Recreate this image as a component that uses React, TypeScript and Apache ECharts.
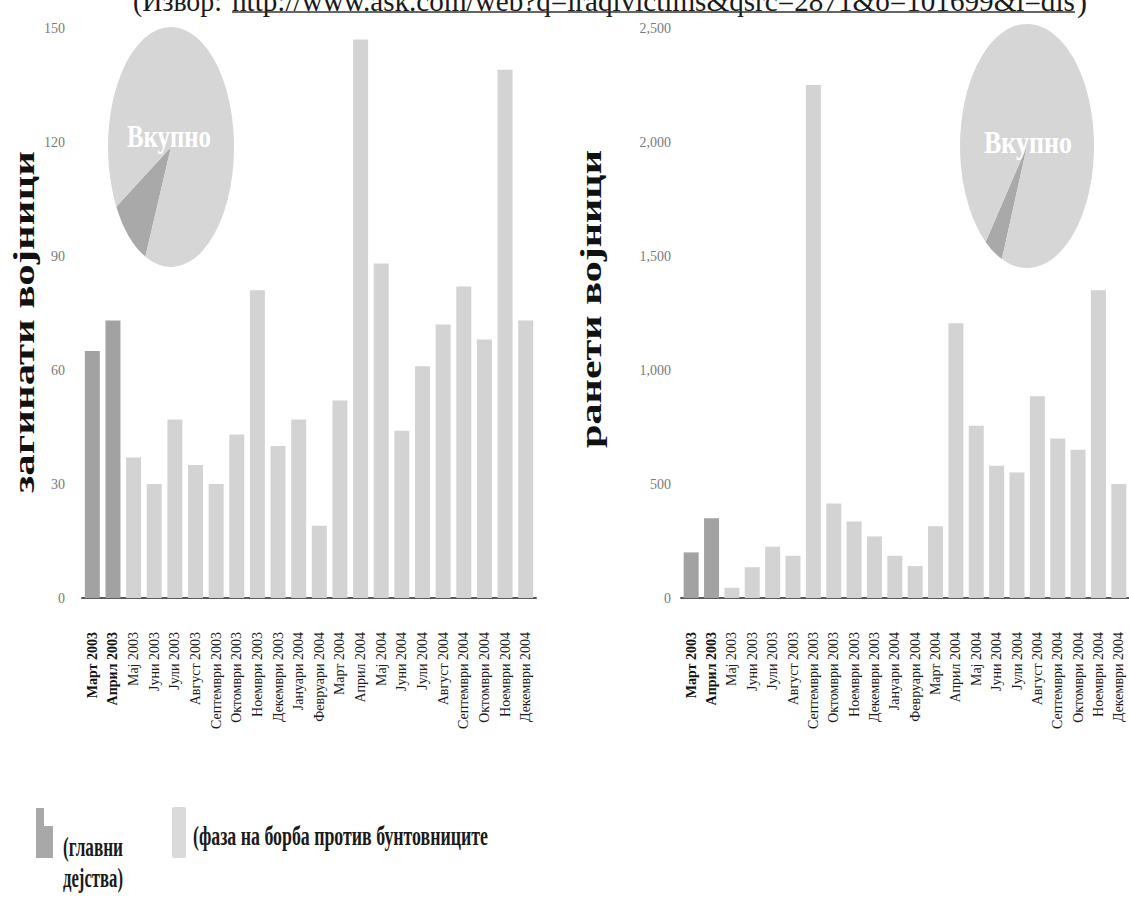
import React, { useEffect, useRef } from "react";
import * as echarts from "echarts";

// ---------- data ----------
const months = [
  "Март 2003", "Април 2003", "Мај 2003", "Јуни 2003", "Јули 2003", "Август 2003",
  "Септември 2003", "Октомври 2003", "Ноември 2003", "Декември 2003", "Јануари 2004",
  "Февруари 2004", "Март 2004", "Април 2004", "Мај 2004", "Јуни 2004", "Јули 2004",
  "Август 2004", "Септември 2004", "Октомври 2004", "Ноември 2004", "Декември 2004",
];
const killed = [65, 73, 37, 30, 47, 35, 30, 43, 81, 40, 47, 19, 52, 147, 88, 44, 61, 72, 82, 68, 139, 73];
const wounded = [200, 350, 45, 135, 225, 185, 2250, 415, 335, 270, 185, 140, 315, 1205, 755, 580, 550, 885, 700, 650, 1350, 500];
const mainPhaseMonths = 2; // first two months: main combat operations
const killedAxis = { min: 0, max: 150, interval: 30 };
const woundedAxis = { min: 0, max: 2500, interval: 500 };

const sourceLabel = "(Извор:";
const sourceUrl = "http://www.ask.com/web?q=iraqivictims&qsrc=2871&o=101699&l=dis";
const killedTitle = "загинати војници";
const woundedTitle = "ранети војници";
const totalLabel = "Вкупно";
const legendMainLines = ["(главни", "дејства)"];
const legendInsurgency = "(фаза на борба против бунтовниците";
const seriesMainName = "главни дејства";
const seriesInsName = "фаза на борба против бунтовниците";

// ---------- styles ----------
const DARK = "#a2a2a2";
const LIGHT = "#d3d3d3";
const PIE_LIGHT = "#d6d6d6";
const PIE_DARK = "#a9a9a9";
const SERIF = "Liberation Serif";

function measure(text: string, font: string): number {
  const c = document.createElement("canvas").getContext("2d");
  if (!c) return text.length * 10;
  c.font = font;
  return c.measureText(text).width;
}

function fitText(text: string, size: number, weight: string, target: number) {
  const w = measure(text, `${weight} ${size}px "${SERIF}"`);
  return w > 0 ? target / w : 1;
}

const sum = (a: number[]) => a.reduce((s, v) => s + v, 0);

function pieSeries(values: number[], cx: number, cy: number, rx: number, ry: number, startDeg: number) {
  const mainSum = sum(values.slice(0, mainPhaseMonths));
  const restSum = sum(values.slice(mainPhaseMonths));
  const total = mainSum + restSum;
  return {
    type: "custom",
    coordinateSystem: "none",
    silent: true,
    z: 5,
    data: [[mainSum], [restSum]],
    renderItem: (params: any, api: any) => {
      const i = params.dataIndex;
      const before = i === 0 ? 0 : mainSum;
      const v = api.value(0);
      const a0 = (startDeg * Math.PI) / 180 + (before / total) * Math.PI * 2;
      const a1 = a0 + (v / total) * Math.PI * 2;
      return {
        type: "sector",
        x: cx,
        y: cy,
        scaleX: rx / ry,
        shape: { cx: 0, cy: 0, r: ry, r0: 0, startAngle: a0, endAngle: a1, clockwise: true },
        style: { fill: i === 0 ? PIE_DARK : PIE_LIGHT, stroke: null },
      };
    },
  };
}

function barPair(values: number[], axisIndex: number, stack: string) {
  return [
    {
      name: seriesMainName,
      type: "bar",
      xAxisIndex: axisIndex,
      yAxisIndex: axisIndex,
      stack,
      barWidth: 15,
      itemStyle: { color: DARK },
      data: values.map((v, i) => (i < mainPhaseMonths ? v : "-")),
    },
    {
      name: seriesInsName,
      type: "bar",
      xAxisIndex: axisIndex,
      yAxisIndex: axisIndex,
      stack,
      barWidth: 15,
      itemStyle: { color: LIGHT },
      data: values.map((v, i) => (i < mainPhaseMonths ? "-" : v)),
    },
  ];
}

function xAxis(gridIndex: number) {
  return {
    type: "category",
    gridIndex,
    data: months,
    axisLine: { show: true, lineStyle: { color: "#5a5a5a", width: 2 } },
    axisTick: { show: false },
    axisLabel: {
      interval: 0,
      rotate: 90,
      margin: 34,
      fontFamily: SERIF,
      fontSize: 14,
      color: "#1a1a1a",
      formatter: (v: string, idx: number) => (idx < mainPhaseMonths ? `{b|${v}}` : v),
      rich: { b: { fontFamily: SERIF, fontSize: 14, fontWeight: "bold", color: "#111" } },
    },
  };
}

function yAxis(gridIndex: number, cfg: { min: number; max: number; interval: number }, margin: number) {
  return {
    type: "value",
    gridIndex,
    min: cfg.min,
    max: cfg.max,
    interval: cfg.interval,
    axisLine: { show: false },
    axisTick: { show: false },
    splitLine: { show: false },
    axisLabel: {
      margin,
      fontFamily: SERIF,
      fontSize: 14,
      color: "#7a7a7a",
      formatter: (v: number) => v.toLocaleString("en-US"),
    },
  };
}

export default function App() {
  const ref = useRef<HTMLDivElement>(null);

  useEffect(() => {
    if (!ref.current) return;
    const chart = echarts.init(ref.current, undefined, { renderer: "svg" });

    const titleSize = 30;
    const srcSize = 30;
    const legSize = 28;
    const totSize = 32;

    const rotTitle = (text: string, x: number, y: number, len: number) => ({
      type: "text",
      x,
      y,
      rotation: Math.PI / 2,
      scaleX: fitText(text, titleSize, "bold", len),
      style: {
        text,
        fontFamily: SERIF,
        fontSize: titleSize,
        fontWeight: "bold",
        fill: "#111",
        align: "center",
        verticalAlign: "middle",
      },
    });

    const plainText = (text: string, x: number, y: number, size: number, weight: string, width: number, fill: string, align = "left") => ({
      type: "text",
      x,
      y,
      scaleX: fitText(text, size, weight, width),
      style: {
        text,
        fontFamily: SERIF,
        fontSize: size,
        fontWeight: weight,
        fill,
        align,
        verticalAlign: "middle",
      },
    });

    chart.setOption({
      animation: false,
      backgroundColor: "#ffffff",
      grid: [
        { left: 82, top: 28, width: 454, height: 570 },
        { left: 681, top: 28, width: 452, height: 570 },
      ],
      xAxis: [xAxis(0), xAxis(1)],
      yAxis: [yAxis(0, killedAxis, 17), yAxis(1, woundedAxis, 10)],
      series: [
        ...barPair(killed, 0, "k"),
        ...barPair(wounded, 1, "w"),
        pieSeries(killed, 171, 147, 63, 120, 114),
        pieSeries(wounded, 1027, 146, 67, 122, 112),
      ],
      graphic: [
        // source line (cut at top, as in the scan)
        { type: "text", x: 133, y: 16, scaleX: fitText(sourceLabel, srcSize, "normal", 89),
          style: { text: sourceLabel, fontFamily: SERIF, fontSize: srcSize, fill: "#1a1a1a", align: "left", verticalAlign: "bottom" } },
        { type: "text", x: 232, y: 16, scaleX: fitText(sourceUrl, srcSize, "normal", 843),
          style: { text: sourceUrl, fontFamily: SERIF, fontSize: srcSize, fill: "#1a1a1a", align: "left", verticalAlign: "bottom" } },
        { type: "text", x: 1077, y: 16, scaleX: fitText(")", srcSize, "normal", 10),
          style: { text: ")", fontFamily: SERIF, fontSize: srcSize, fill: "#1a1a1a", align: "left", verticalAlign: "bottom" } },
        { type: "line", shape: { x1: 232, y1: 12, x2: 1075, y2: 12 }, style: { stroke: "#333", lineWidth: 1.5 } },

        // axis titles
        rotTitle(killedTitle, 24, 322, 342),
        rotTitle(woundedTitle, 591, 299, 298),

        // pie labels
        { ...plainText(totalLabel, 169, 136, totSize, "bold", 84, "#ffffff", "center"), z: 100 },
        { ...plainText(totalLabel, 1028, 142, totSize, "bold", 88, "#ffffff", "center"), z: 100 },

        // legend
        { type: "polygon", shape: { points: [[36, 808], [44, 808], [44, 826], [53, 826], [53, 858], [36, 858]] }, style: { fill: "#a8a8a8" } },
        plainText(legendMainLines[0], 63, 846, legSize, "bold", 60, "#1a1a1a"),
        plainText(legendMainLines[1], 63, 877, legSize, "bold", 60, "#1a1a1a"),
        { type: "rect", shape: { x: 172, y: 807, width: 14, height: 51, r: 2 }, style: { fill: "#dadada" } },
        plainText(legendInsurgency, 193, 835, legSize, "bold", 295, "#1a1a1a"),
      ],
    });

    return () => chart.dispose();
  }, []);

  return (
    <div
      ref={ref}
      style={{ position: "fixed", left: 0, top: 0, width: 1129, height: 899, background: "#fff" }}
    />
  );
}
